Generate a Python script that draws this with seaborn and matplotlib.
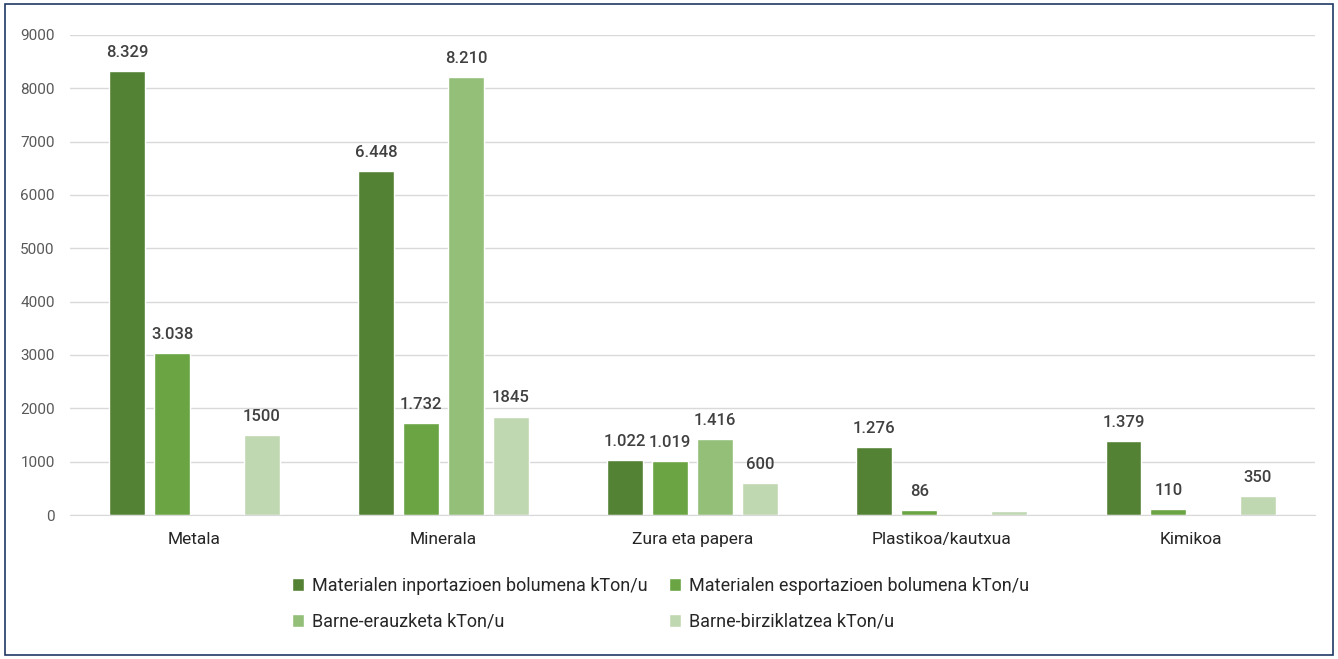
import pandas as pd
import numpy as np
import matplotlib.pyplot as plt
import seaborn as sns
from matplotlib.patches import Rectangle

# Datuak
kategoriak = ['Metala', 'Minerala', 'Zura eta papera', 'Plastikoa/kautxua', 'Kimikoa']
serieak = ['Materialen inportazioen bolumena kTon/u',
           'Materialen esportazioen bolumena kTon/u',
           'Barne-erauzketa kTon/u',
           'Barne-birziklatzea kTon/u']
inportazioa = [8329, 6448, 1022, 1276, 1379]
esportazioa = [3038, 1732, 1019, 86, 110]
erauzketa = [np.nan, 8210, 1416, np.nan, np.nan]
birziklatzea = [1500, 1845, 600, 80, 350]
etiketak_birz = ['1500', '1845', '600', '', '350']

koloreak = ['#548235', '#6aa443', '#93bf79', '#c0d8b2']

rows = []
for s, vals in zip(serieak, [inportazioa, esportazioa, erauzketa, birziklatzea]):
    for k, v in zip(kategoriak, vals):
        rows.append({'Kategoria': k, 'Seriea': s, 'Balioa': v})
df = pd.DataFrame(rows)
df['Balioa'] = df['Balioa'].fillna(0)  # hutsik dauden barrak

sns.set_style('white')
plt.rcParams['font.family'] = ['Roboto', 'DejaVu Sans']

fig = plt.figure(figsize=(13.38, 6.59), dpi=100)
ax = fig.add_axes([0.0523, 0.2185, 0.9307, 0.7285])

sns.barplot(data=df, x='Kategoria', y='Balioa', hue='Seriea', order=kategoriak,
            hue_order=serieak, palette=koloreak, width=0.72, gap=0.2,
            saturation=1, ax=ax, legend=True)

# Etiketak
def puntu(v):
    return f'{int(v):,}'.replace(',', '.')

for i, cont in enumerate(ax.containers):
    if i < 3:
        vals = [inportazioa, esportazioa, erauzketa][i]
        labs = ['' if np.isnan(v) else puntu(v) for v in vals]
    else:
        labs = etiketak_birz
    ax.bar_label(cont, labels=labs, padding=8, fontsize=12, color='#404040',
                 fontweight='medium')

ax.set_ylim(0, 9000)
ax.set_xlim(-0.5, 4.5)
ax.set_yticks(range(0, 9001, 1000))
ax.yaxis.grid(True, color='#d9d9d9', linewidth=1)
ax.set_axisbelow(True)
for sp in ['top', 'right', 'left']:
    ax.spines[sp].set_visible(False)
ax.spines['bottom'].set_color('#d9d9d9')
ax.tick_params(axis='y', length=0, labelsize=11, labelcolor='#595959', pad=11)
ax.tick_params(axis='x', length=0, labelsize=12.5, labelcolor='#262626', pad=12)
ax.set_xlabel('')
ax.set_ylabel('')

# legenda: lerroka ordenatuta
h, l = ax.get_legend_handles_labels()
ordena = [0, 2, 1, 3]
ax.legend([h[i] for i in ordena], [l[i] for i in ordena],
          loc='upper center', bbox_to_anchor=(0.474, -0.095), ncol=2, frameon=False,
          fontsize=13, handlelength=0.7, handleheight=0.7, handletextpad=0.4,
          columnspacing=1.2, labelspacing=1.0, labelcolor='#262626')

fig.patches.append(Rectangle((0.004, 0.006), 0.992, 0.988, transform=fig.transFigure,
                             fill=False, edgecolor='#1f3864', linewidth=1.2))

plt.savefig('out.png', dpi=100)
